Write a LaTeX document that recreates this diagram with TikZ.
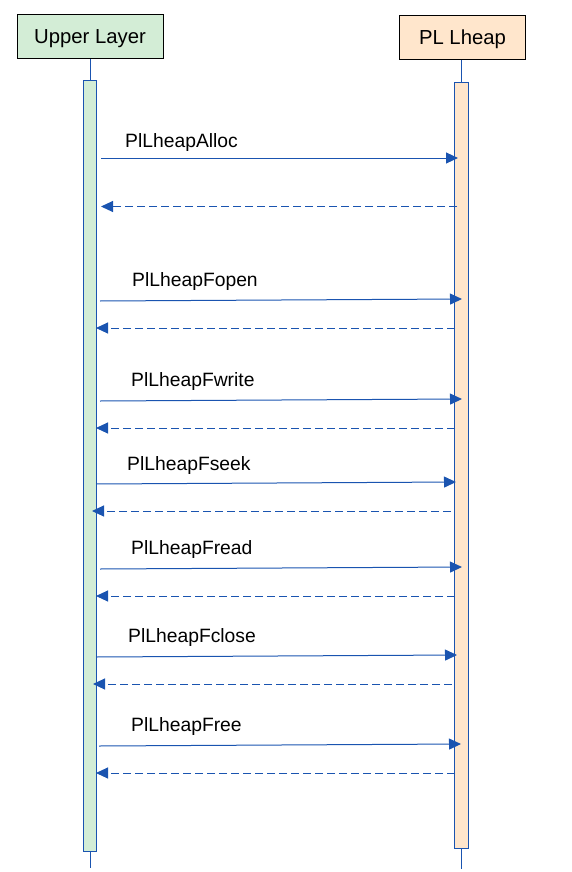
\documentclass[tikz,border=0pt]{standalone}
\usepackage{fontspec}
\setmainfont{Liberation Sans}
\usetikzlibrary{arrows.meta}
\definecolor{seqblue}{HTML}{1A54B0}
\definecolor{greenfill}{HTML}{D3EDD6}
\definecolor{orangefill}{HTML}{FFE6CC}
\tikzset{
  actor/.style={draw=black, line width=1pt, minimum height=44pt, font=\fontsize{20.3}{24}\selectfont, inner sep=0pt, text depth=0pt},
  lifeline/.style={draw=seqblue, line width=1pt},
  actbar/.style={draw=seqblue, line width=1pt},
  callarrow/.style={draw=seqblue, line width=1pt, -{Triangle[length=12pt,width=11pt]}},
  retarrow/.style={draw=seqblue, line width=1pt, dash pattern=on 8pt off 4pt, -{Triangle[length=12pt,width=11pt]}},
  msg/.style={anchor=base west, inner sep=0pt, font=\fontsize{19.3}{23}\selectfont}
}
\begin{document}
\begin{tikzpicture}[x=1pt, y=-1pt]
\useasboundingbox (0,0) rectangle (571,872);
% actors
\node[actor, fill=greenfill, minimum width=146pt] (upper) at (90,37) {Upper Layer};
\node[actor, fill=orangefill, minimum width=126pt] (pl) at (462.5,37.3) {PL Lheap};
% lifeline end points
\coordinate (uend) at (90,868);
\coordinate (pend) at (461,869);
\draw[lifeline] (upper.south -| 90,0) -- (uend);
\draw[lifeline] (pl.south -| 461,0) -- (pend);
% activation bars
\draw[actbar, fill=greenfill] (83.5,81) rectangle (96.3,851.5);
\draw[actbar, fill=orangefill] (454.5,83) rectangle (468,848.3);
% message end points
\coordinate (a1s) at (101,158); \coordinate (a1e) at (458,158);
\coordinate (r1s) at (457,206.5); \coordinate (r1e) at (101,206.5);
\coordinate (a2s) at (100,301); \coordinate (a2e) at (462,299);
\coordinate (r2s) at (455,328); \coordinate (r2e) at (96,328);
\coordinate (a3s) at (100,401); \coordinate (a3e) at (462,399);
\coordinate (r3s) at (455,428); \coordinate (r3e) at (96,428);
\coordinate (a4s) at (96,484); \coordinate (a4e) at (456,482);
\coordinate (r4s) at (451,511); \coordinate (r4e) at (92,511);
\coordinate (a5s) at (100,569); \coordinate (a5e) at (462,567);
\coordinate (r5s) at (455,596); \coordinate (r5e) at (96,596);
\coordinate (a6s) at (96,657); \coordinate (a6e) at (457,655);
\coordinate (r6s) at (452,684); \coordinate (r6e) at (93,684);
\coordinate (a7s) at (99,746); \coordinate (a7e) at (461,744);
\coordinate (r7s) at (455,773); \coordinate (r7e) at (96,773);
% messages
\draw[callarrow] (a1s) -- (a1e);
\draw[retarrow] (r1s) -- (r1e);
\draw[callarrow] (a2s) -- (a2e);
\draw[retarrow] (r2s) -- (r2e);
\draw[callarrow] (a3s) -- (a3e);
\draw[retarrow] (r3s) -- (r3e);
\draw[callarrow] (a4s) -- (a4e);
\draw[retarrow] (r4s) -- (r4e);
\draw[callarrow] (a5s) -- (a5e);
\draw[retarrow] (r5s) -- (r5e);
\draw[callarrow] (a6s) -- (a6e);
\draw[retarrow] (r6s) -- (r6e);
\draw[callarrow] (a7s) -- (a7e);
\draw[retarrow] (r7s) -- (r7e);
% labels
\node[msg] (l1) at (125,147) {PlLheapAlloc};
\node[msg] (l2) at (132,286) {PlLheapFopen};
\node[msg] (l3) at (131,386) {PlLheapFwrite};
\node[msg] (l4) at (127,470) {PlLheapFseek};
\node[msg] (l5) at (131,554) {PlLheapFread};
\node[msg] (l6) at (128,642) {PlLheapFclose};
\node[msg] (l7) at (131,731) {PlLheapFree};
\end{tikzpicture}
\end{document}
